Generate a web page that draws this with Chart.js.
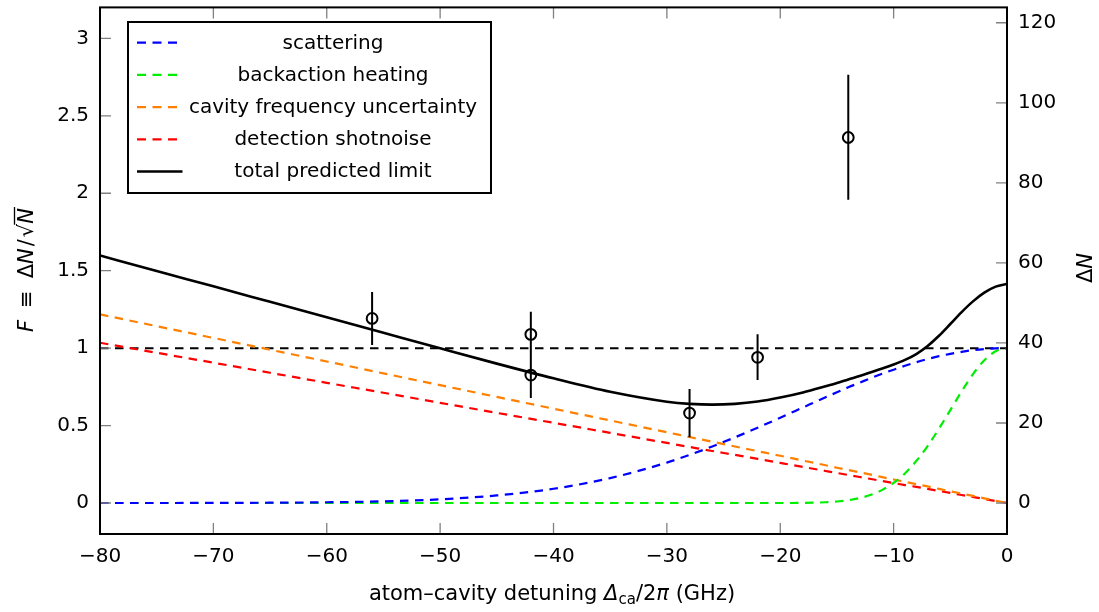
<!DOCTYPE html>
<html>
<head>
<meta charset="utf-8">
<script src="https://cdn.jsdelivr.net/npm/chart.js@4/dist/chart.umd.min.js"></script>
<style>
html, body { margin: 0; padding: 0; background: #fff; }
canvas { display: block; }
</style>
</head>
<body>
<canvas id="chart" width="1099" height="612"></canvas>
<script>
// detuning grid, GHz
var detuning = [-80, -75, -70, -65, -60, -55, -50, -45, -40, -35, -30,
  -28, -26, -24, -22, -20, -18, -16,
  -15, -14, -13, -12, -11, -10, -9, -8, -7, -6, -5, -4, -3, -2, -1, 0];

// F contributions
var scattering = [0, 0, 0.001, 0.002, 0.005, 0.011, 0.024, 0.049, 0.092, 0.161, 0.261,
  0.311, 0.365, 0.424, 0.486, 0.551, 0.617, 0.683,
  0.715, 0.747, 0.777, 0.807, 0.835, 0.861, 0.886, 0.909, 0.930, 0.948, 0.963, 0.976, 0.987, 0.994, 0.999, 1.0];
var heating = [0, 0, 0, 0, 0, 0, 0, 0, 0, 0, 0,
  0, 0, 0, 0, 0, 0.001, 0.005,
  0.010, 0.018, 0.032, 0.053, 0.085, 0.130, 0.191, 0.271, 0.368, 0.480, 0.600, 0.721, 0.832, 0.922, 0.980, 1.0];
var cavityFreq = [1.218, 1.142, 1.066, 0.990, 0.914, 0.837, 0.761, 0.685, 0.609, 0.533, 0.457,
  0.426, 0.396, 0.365, 0.335, 0.305, 0.274, 0.244,
  0.228, 0.213, 0.198, 0.183, 0.167, 0.152, 0.137, 0.122, 0.107, 0.091, 0.076, 0.061, 0.046, 0.030, 0.015, 0];
var shotnoise = [1.035, 0.970, 0.906, 0.841, 0.776, 0.712, 0.647, 0.582, 0.518, 0.453, 0.388,
  0.362, 0.336, 0.311, 0.285, 0.259, 0.233, 0.207,
  0.194, 0.181, 0.168, 0.155, 0.142, 0.129, 0.116, 0.104, 0.091, 0.078, 0.065, 0.052, 0.039, 0.026, 0.013, 0];
var totalLimit = [1.598, 1.498, 1.399, 1.299, 1.199, 1.099, 0.999, 0.900, 0.805, 0.718, 0.654,
  0.640, 0.635, 0.640, 0.655, 0.681, 0.714, 0.754,
  0.775, 0.798, 0.820, 0.844, 0.868, 0.894, 0.924, 0.962, 1.014, 1.080, 1.156, 1.233, 1.302, 1.358, 1.397, 1.414];

// projection noise level F = 1
var unityX = [-80, 0];
var unityF = [1, 1];

// measured points with error bars
var measDetuning = [-56, -42, -42, -28, -22, -14];
var measF = [1.192, 1.089, 0.826, 0.581, 0.941, 2.360];
var measLow = [1.021, 0.943, 0.678, 0.424, 0.794, 1.958];
var measHigh = [1.363, 1.235, 0.974, 0.736, 1.089, 2.765];

var xTicks = [-80, -70, -60, -50, -40, -30, -20, -10, 0];
var fTicks = [0, 0.5, 1, 1.5, 2, 2.5, 3];
var dnTicks = [0, 20, 40, 60, 80, 100, 120];

var FONT = 'DejaVu Sans';
var DASH = [8.5, 6.5];
var dnPerF = 38.7; // right axis scale relative to left

function pts(xs, ys) {
  return xs.map(function (x, i) { return { x: x, y: ys[i] }; });
}

function curve(label, ys, color, dash, width, legendIndex) {
  return {
    label: label,
    data: pts(detuning, ys),
    borderColor: color,
    borderDash: dash,
    borderWidth: width,
    pointRadius: 0,
    fill: false,
    cubicInterpolationMode: 'monotone',
    inLegend: true,
    legendIndex: legendIndex,
    order: 2
  };
}

function setTicks(list) {
  return function (scale) {
    scale.ticks = list.map(function (v) { return { value: v }; });
  };
}

function noPad(s) {
  s.paddingTop = 0; s.paddingBottom = 0; s.paddingLeft = 0; s.paddingRight = 0;
}

// draw a row of text pieces centred on (cx, baseline cy), optionally rotated
function drawRuns(ctx, runs, cx, cy, angle) {
  ctx.save();
  ctx.translate(cx, cy);
  ctx.rotate(angle);
  var total = 0;
  runs.forEach(function (r) {
    ctx.font = r.font;
    r.w = ctx.measureText(r.t).width;
    total += r.w + (r.gap || 0);
  });
  var x = -total / 2;
  ctx.fillStyle = '#000';
  ctx.textAlign = 'left';
  ctx.textBaseline = 'alphabetic';
  runs.forEach(function (r) {
    x += r.gap || 0;
    ctx.font = r.font;
    ctx.fillText(r.t, x, r.dy || 0);
    if (r.over) {
      ctx.strokeStyle = '#000';
      ctx.lineWidth = 1.3;
      ctx.setLineDash([]);
      ctx.beginPath();
      ctx.moveTo(x - 1, -r.over);
      ctx.lineTo(x + r.w + 1, -r.over);
      ctx.stroke();
    }
    x += r.w;
  });
  ctx.restore();
}

var errorBars = {
  id: 'errorBars',
  afterDatasetsDraw: function (chart) {
    var ctx = chart.ctx, xs = chart.scales.x, ys = chart.scales.y;
    ctx.save();
    ctx.strokeStyle = '#000';
    ctx.lineWidth = 2;
    ctx.setLineDash([]);
    ctx.beginPath();
    measDetuning.forEach(function (d, i) {
      var px = xs.getPixelForValue(d);
      ctx.moveTo(px, ys.getPixelForValue(measLow[i]));
      ctx.lineTo(px, ys.getPixelForValue(measHigh[i]));
    });
    ctx.stroke();
    ctx.restore();
  }
};

var frame = {
  id: 'frame',
  afterDraw: function (chart) {
    var ctx = chart.ctx, a = chart.chartArea, sc = chart.scales;
    ctx.save();
    ctx.setLineDash([]);
    // inward ticks
    ctx.strokeStyle = '#808080';
    ctx.lineWidth = 1.3;
    ctx.beginPath();
    sc.x.ticks.forEach(function (t) {
      var px = sc.x.getPixelForValue(t.value);
      ctx.moveTo(px, a.bottom); ctx.lineTo(px, a.bottom - 11);
      ctx.moveTo(px, a.top); ctx.lineTo(px, a.top + 11);
    });
    sc.y.ticks.forEach(function (t) {
      var py = sc.y.getPixelForValue(t.value);
      ctx.moveTo(a.left, py); ctx.lineTo(a.left + 11, py);
    });
    sc.y2.ticks.forEach(function (t) {
      var py = sc.y2.getPixelForValue(t.value);
      ctx.moveTo(a.right, py); ctx.lineTo(a.right - 11, py);
    });
    ctx.stroke();

    // box
    ctx.strokeStyle = '#000';
    ctx.lineWidth = 2;
    ctx.strokeRect(a.left, a.top, a.right - a.left, a.bottom - a.top);

    // legend
    var lx = 128, ly = 22, lw = 363, lh = 171;
    ctx.fillStyle = '#fff';
    ctx.fillRect(lx, ly, lw, lh);
    ctx.strokeRect(lx, ly, lw, lh);
    var entries = chart.data.datasets.filter(function (ds) { return ds.inLegend; });
    entries.sort(function (p, q) { return p.legendIndex - q.legendIndex; });
    entries.forEach(function (ds, i) {
      var y = 42.7 + i * 32.2;
      var dashed = ds.borderDash.length > 0;
      ctx.strokeStyle = ds.borderColor;
      ctx.lineWidth = ds.borderWidth;
      ctx.setLineDash(dashed ? [9, 6.5] : []);
      ctx.beginPath();
      ctx.moveTo(137, y);
      ctx.lineTo(dashed ? 177.5 : 182.5, y);
      ctx.stroke();
      ctx.setLineDash([]);
      ctx.fillStyle = '#000';
      ctx.font = '20px ' + FONT;
      ctx.textAlign = 'center';
      ctx.textBaseline = 'alphabetic';
      ctx.fillText(ds.label, 333, y + 5.8);
    });

    // axis titles
    var up = '21px ' + FONT, it = 'italic 21px ' + FONT;
    drawRuns(ctx, [
      { t: 'F', font: it },
      { t: '≡', font: up, gap: 12 },
      { t: 'Δ', font: up, gap: 12 },
      { t: 'N', font: it },
      { t: '/', font: up, gap: 2 },
      { t: '√', font: up, gap: 2 },
      { t: 'N', font: it, over: 18.5 }
    ], 33, 270, -Math.PI / 2);
    drawRuns(ctx, [
      { t: 'Δ', font: up },
      { t: 'N', font: it }
    ], 1092, 268, -Math.PI / 2);
    drawRuns(ctx, [
      { t: 'atom–cavity detuning ', font: up },
      { t: 'Δ', font: it },
      { t: 'ca', font: '15px ' + FONT, dy: 4 },
      { t: '/2', font: up },
      { t: 'π', font: it },
      { t: ' (GHz)', font: up }
    ], 552, 600, 0);
    ctx.restore();
  }
};

var datasets = [
  {
    label: 'measured',
    data: pts(measDetuning, measF),
    showLine: false,
    pointRadius: 5.4,
    pointBorderWidth: 2,
    pointBorderColor: '#000',
    pointBackgroundColor: 'rgba(0,0,0,0)',
    order: 0
  },
  Object.assign(curve('total predicted limit', totalLimit, '#000', [], 2.6, 4), { order: 1 }),
  {
    label: 'F = 1',
    data: pts(unityX, unityF),
    borderColor: '#000',
    borderDash: DASH,
    borderWidth: 2,
    pointRadius: 0,
    order: 3
  },
  curve('scattering', scattering, '#0000ff', DASH, 2.2, 0),
  curve('backaction heating', heating, '#00ee00', DASH, 2.2, 1),
  curve('cavity frequency uncertainty', cavityFreq, '#ff8000', DASH, 2.2, 2),
  curve('detection shotnoise', shotnoise, '#ff0000', DASH, 2.2, 3)
];

Chart.defaults.font.family = FONT;
Chart.defaults.font.size = 20;
Chart.defaults.color = '#000';

var chart = new Chart(document.getElementById('chart').getContext('2d'), {
  type: 'line',
  data: { datasets: datasets },
  options: {
    responsive: false,
    devicePixelRatio: 1,
    animation: false,
    layout: { padding: { top: 5, left: 0, right: 0, bottom: 0 } },
    plugins: { legend: { display: false }, tooltip: { enabled: false } },
    scales: {
      x: {
        type: 'linear',
        min: -80, max: 0,
        grid: { display: false, drawTicks: false },
        border: { display: false },
        afterBuildTicks: setTicks(xTicks),
        afterFit: function (s) { s.height = 78; noPad(s); },
        ticks: {
          padding: 11,
          maxRotation: 0,
          callback: function (v) { return String(v).replace('-', '\u2212'); }
        }
      },
      y: {
        position: 'left',
        min: -0.2, max: 3.2,
        grid: { display: false, drawTicks: false },
        border: { display: false },
        afterBuildTicks: setTicks(fTicks),
        afterFit: function (s) { s.width = 100; noPad(s); },
        ticks: { padding: 11, callback: function (v) { return String(v); } }
      },
      y2: {
        position: 'right',
        min: -0.2 * dnPerF, max: 3.2 * dnPerF,
        grid: { display: false, drawTicks: false },
        border: { display: false },
        afterBuildTicks: setTicks(dnTicks),
        afterFit: function (s) { s.width = 92; noPad(s); },
        ticks: { padding: 11, callback: function (v) { return String(v); } }
      }
    }
  },
  plugins: [errorBars, frame]
});
</script>
</body>
</html>
